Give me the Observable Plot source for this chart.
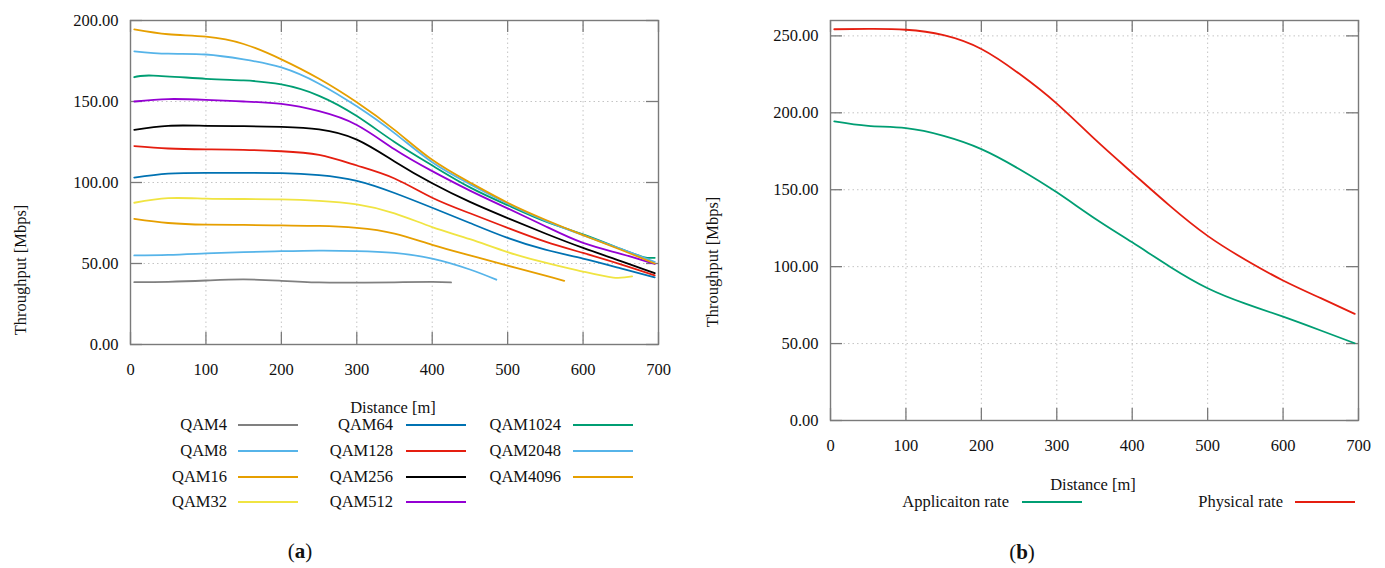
<!DOCTYPE html>
<html><head><meta charset="utf-8">
<script src="https://cdn.jsdelivr.net/npm/d3@7"></script>
<script src="https://cdn.jsdelivr.net/npm/@observablehq/plot@0.6"></script>
<style>
body{margin:0;width:1385px;height:568px;position:relative;background:#fff;font-family:"Liberation Serif","Times New Roman",serif;overflow:hidden;color:#111}
.abs{position:absolute;white-space:nowrap;font-size:16.5px;line-height:1}
.rt{transform:translate(-100%,-50%)}
.ct{transform:translate(-50%,-50%)}
.rot{transform:translate(-50%,-50%) rotate(-90deg)}
.sw{position:absolute;height:0;width:60px;border-top:2px solid;transform:translateY(-1px)}
.cap{position:absolute;font-size:21px;transform:translate(-50%,-50%);white-space:nowrap}
</style></head><body>
<div id="a" style="position:absolute;left:0;top:0"></div>
<div id="b" style="position:absolute;left:700px;top:0"></div>
<script>
// ---------- data ----------
const qamNames = ["QAM4","QAM8","QAM16","QAM32","QAM64","QAM128","QAM256","QAM512","QAM1024","QAM2048","QAM4096"];
const qamColors = ["#808080","#56B4E9","#E69F00","#F0E442","#0072B2","#E51E10","#000000","#9400D3","#009E73","#56B4E9","#E69F00"];

const distFull = [5,50,100,150,200,250,300,350,400,450,500,550,600,650,695];
const distQAM4 = [5,50,100,150,200,250,300,350,400,425];
const distQAM8 = [5,50,100,150,200,250,300,350,400,450,485];
const distQAM16 = [5,50,100,150,200,250,300,350,400,450,500,550,575];
const distQAM32 = [5,50,100,150,200,250,300,350,400,450,500,550,600,640,665];
const distQAM1024 = [5,30,100,150,200,250,300,350,400,450,500,550,600,650,680,695];

const QAM4 = [38.5,38.7,39.5,40.2,39.3,38.3,38.2,38.4,38.6,38.3];
const QAM8 = [55,55.3,56.2,57,57.6,58,57.7,56.5,53,46.3,40];
const QAM16 = [77.5,75,74,73.8,73.5,73.2,72,68.5,61.5,55,48.7,42.5,39.3];
const QAM32 = [87.5,90.3,90,89.8,89.6,88.7,86.5,81,72.5,65,57,50.5,45,41.3,42];
const QAM64 = [103,105.5,106,106,105.8,104.5,101,93.5,84.4,75,65.8,58.5,53,47,41.5];
const QAM128 = [122.5,121,120.5,120.2,119.3,117,110.5,102.5,90.6,81,72,63.5,56.5,49.5,42.7];
const QAM256 = [132.5,135,135,134.8,134.3,132.8,126.5,113,99.5,88,78,68.5,59.6,51.5,44];
const QAM512 = [150,151.5,151,150,148.5,144,135.5,120.5,107,95,84,73,62.7,56,49.7];
const QAM1024 = [165,166,164,163,160.5,153.5,141,125,110.5,97,86,76,68,59,54,53.5];
const QAM2048 = [181,179.5,179,176,171,161,147,130.5,112.5,99,87,76.5,67.5,59,51];
const QAM4096 = [194.5,191.5,190,185.5,176,164,149.5,132.5,114,100,87.5,77,67.5,58.5,50];

const qamDist = [distQAM4,distQAM8,distQAM16,distQAM32,distFull,distFull,distFull,distFull,distQAM1024,distFull,distFull];
const qamValues = [QAM4,QAM8,QAM16,QAM32,QAM64,QAM128,QAM256,QAM512,QAM1024,QAM2048,QAM4096];

const rateNames = ["Applicaiton rate","Physical rate"];
const rateColors = ["#009E73","#E51E10"];
const rateDist = [5,50,100,150,200,250,300,350,400,450,500,550,600,650,695];
const applicationRate = [194.4,191.5,190,185,176.4,163.5,148.3,131.5,115.8,100,86,76,67.5,58.5,50.2];
const physicalRate = [254.3,254.5,254,250.5,241.5,225.5,206,183,161,139.5,120,104.5,91,79.5,69.3];
const rateValues = [applicationRate, physicalRate];

const xTicks = [0,100,200,300,400,500,600,700];
const yTicksA = [0,50,100,150,200];
const yTicksB = [0,50,100,150,200,250];

// ---------- tidy tables ----------
const tableA = qamNames.flatMap((s,i)=>qamDist[i].map((d,j)=>({s, d, v: qamValues[i][j]})));
const tableB = rateNames.flatMap((s,i)=>rateDist.map((d,j)=>({s, d, v: rateValues[i][j]})));

function chart({table, names, colors, yMax, yTicks, height}) {
  const width = 680, mL = 130, mR = 22, mT = 20, mB = 36;
  const pw = width - mL - mR, ph = height - mT - mB;
  const tickStroke = "#7a7a7a";
  return Plot.plot({
    width, height, marginLeft: mL, marginRight: mR, marginTop: mT, marginBottom: mB,
    style: {fontFamily: '"Liberation Serif","Times New Roman",serif', fontSize: "16.5px", color: "#111", background: "#fff"},
    x: {domain: [0, 700]},
    y: {domain: [0, yMax]},
    color: {domain: names, range: colors},
    marks: [
      Plot.gridX(xTicks.slice(1, -1), {stroke: "#c4c4c4", strokeOpacity: 1, strokeDasharray: "1.5,3"}),
      Plot.gridY(yTicks.slice(1), {stroke: "#c4c4c4", strokeOpacity: 1, strokeDasharray: "1.5,3"}),
      Plot.tickX(xTicks, {x: d => d, stroke: tickStroke, strokeWidth: 1.3, insetTop: ph - 12}),
      Plot.tickX(xTicks, {x: d => d, stroke: tickStroke, strokeWidth: 1.3, insetBottom: ph - 12}),
      Plot.tickY(yTicks, {y: d => d, stroke: tickStroke, strokeWidth: 1.3, insetRight: pw - 12}),
      Plot.tickY(yTicks, {y: d => d, stroke: tickStroke, strokeWidth: 1.3, insetLeft: pw - 12}),
      Plot.axisX({ticks: xTicks, tickSize: 0, tickPadding: 19, label: null}),
      Plot.axisY({ticks: yTicks, tickSize: 0, tickPadding: 12, tickFormat: d3.format(".2f"), label: null}),
      Plot.line(table, {x: "d", y: "v", z: "s", stroke: "s", strokeWidth: 1.8, curve: "natural"}),
      Plot.frame({stroke: tickStroke, strokeWidth: 1.4})
    ]
  });
}

document.getElementById("a").append(chart({table: tableA, names: qamNames, colors: qamColors, yMax: 200, yTicks: yTicksA, height: 380}));
document.getElementById("b").append(chart({table: tableB, names: rateNames, colors: rateColors, yMax: 260, yTicks: yTicksB, height: 456}));

// ---------- labels & legends (HTML) ----------
function addText(txt, x, y, cls) {
  const el = document.createElement("div");
  el.className = "abs " + cls;
  el.style.left = x + "px"; el.style.top = y + "px";
  el.textContent = txt;
  document.body.append(el);
}
function addSwatch(x, y, color) {
  const el = document.createElement("div");
  el.className = "sw";
  el.style.left = x + "px"; el.style.top = y + "px";
  el.style.borderTopColor = color;
  document.body.append(el);
}
addText("Throughput [Mbps]", 21, 270, "rot");
addText("Throughput [Mbps]", 713, 262, "rot");
addText("Distance [m]", 393, 408, "ct");
addText("Distance [m]", 1093, 485, "ct");

const legColText = [227, 393, 561], legColLine = [238, 406, 573], legRowY = [425, 451, 477, 502];
qamNames.forEach((n, i) => {
  const c = Math.floor(i / 4), r = i % 4;
  addText(n, legColText[c], legRowY[r], "rt");
  addSwatch(legColLine[c], legRowY[r], qamColors[i]);
});
const rateText = [1009, 1283], rateLine = [1022, 1295];
rateNames.forEach((n, i) => {
  addText(n, rateText[i], 502, "rt");
  addSwatch(rateLine[i], 502, rateColors[i]);
});

function addCap(letter, x, y) {
  const el = document.createElement("div");
  el.className = "cap";
  el.style.left = x + "px"; el.style.top = y + "px";
  el.innerHTML = "(<b>" + letter + "</b>)";
  document.body.append(el);
}
addCap("a", 300, 551);
addCap("b", 1022, 552);
</script>
</body></html>
